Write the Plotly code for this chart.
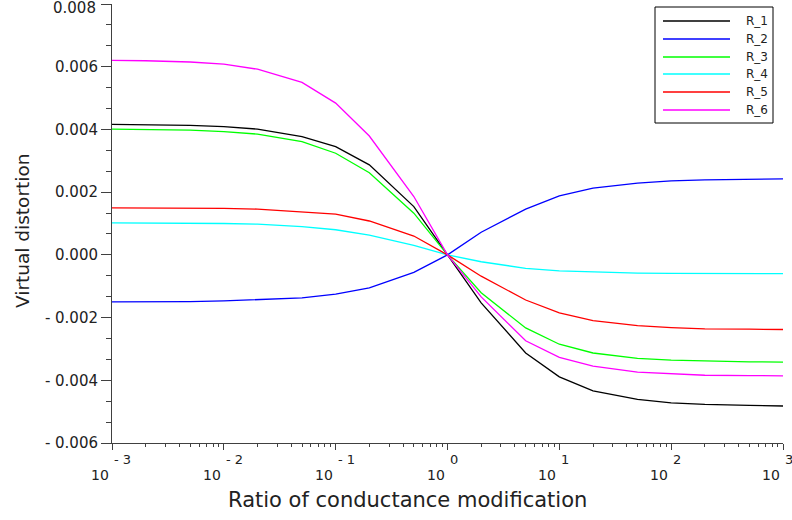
import plotly.graph_objects as go

# ---------------- data ----------------
ratio = [0.001, 0.002, 0.005, 0.01, 0.02, 0.05, 0.1, 0.2, 0.5, 1,
         2, 5, 10, 20, 50, 100, 200, 500, 1000]

R_1 = [0.00416, 0.00415, 0.00413, 0.00409, 0.00401, 0.00377, 0.00345, 0.00287, 0.00154, 0.0,
       -0.00153, -0.00313, -0.00389, -0.00434, -0.00461, -0.00472, -0.00477, -0.00480, -0.00482]
R_2 = [-0.00150, -0.00150, -0.00149, -0.00147, -0.00143, -0.00137, -0.00125, -0.00105, -0.00056, 0.0,
       0.00072, 0.00146, 0.00188, 0.00213, 0.00229, 0.00236, 0.00239, 0.00241, 0.00242]
R_3 = [0.00401, 0.00400, 0.00398, 0.00393, 0.00385, 0.00361, 0.00324, 0.00262, 0.00133, 0.0,
       -0.00121, -0.00233, -0.00285, -0.00313, -0.00330, -0.00336, -0.00339, -0.00341, -0.00342]
R_4 = [0.00102, 0.00102, 0.00101, 0.00100, 0.00098, 0.00090, 0.00080, 0.00063, 0.00030, 0.0,
       -0.00022, -0.00043, -0.00051, -0.00055, -0.00058, -0.00059, -0.00060, -0.00060, -0.00060]
R_5 = [0.00150, 0.00150, 0.00149, 0.00148, 0.00146, 0.00138, 0.00130, 0.00108, 0.00060, 0.0,
       -0.00068, -0.00144, -0.00185, -0.00210, -0.00226, -0.00232, -0.00236, -0.00237, -0.00238]
R_6 = [0.00620, 0.00619, 0.00615, 0.00608, 0.00592, 0.00550, 0.00484, 0.00379, 0.00186, 0.0,
       -0.00134, -0.00274, -0.00327, -0.00355, -0.00374, -0.00380, -0.00384, -0.00385, -0.00386]

series_names = ["R_1", "R_2", "R_3", "R_4", "R_5", "R_6"]
series_values = [R_1, R_2, R_3, R_4, R_5, R_6]
series_colors = ["#000000", "#0000ff", "#00ff00", "#00ffff", "#ff0000", "#ff00ff"]

y_tickvals = [0.008, 0.006, 0.004, 0.002, 0.0, -0.002, -0.004, -0.006]
y_ticktext = ["0.008", "0.006", "0.004", "0.002", "0.000", "- 0.002", "- 0.004", "- 0.006"]
x_tickvals = [0.001, 0.01, 0.1, 1, 10, 100, 1000]
x_exponents = ["- 3", "- 2", "- 1", "0", "1", "2", "3"]
x_log_pos = [-3, -2, -1, 0, 1, 2, 3]

x_title = "Ratio of conductance modification"
y_title = "Virtual distortion"

# ---------------- layout geometry ----------------
W, H = 792, 520
L, R, T, B = 112, 783, 4, 443
FONT = "DejaVu Sans"
AX = "#404040"
TXT = "#222"
EPS = 1e-8


def px_x(p):
    return (p - L) / (R - L)


def px_y(p):
    return (B - p) / (B - T)


fig = go.Figure()
for name, vals, col in zip(series_names, series_values, series_colors):
    fig.add_trace(go.Scatter(x=ratio, y=vals, mode="lines", name=name,
                             line=dict(color=col, width=1.3), showlegend=False))

annotations = []
shapes = []

# top y tick label is nudged down so it stays inside the page (as in the reference)
tick_text_axis = [("" if i == 0 else t) for i, t in enumerate(y_ticktext)]
annotations.append(dict(x=0, xref="paper", y=1, yref="paper", text=y_ticktext[0],
                        showarrow=False, xanchor="right", yanchor="middle",
                        xshift=-14, yshift=-4, font=dict(family=FONT, size=15, color=TXT)))

# x tick labels: "10" with exponent above-right
for lp, ex in zip(x_log_pos, x_exponents):
    annotations.append(dict(x=lp, xref="x", y=0, yref="paper", text="10",
                            showarrow=False, xanchor="right", yanchor="middle",
                            xshift=-1, yshift=-32, font=dict(family=FONT, size=14, color=TXT)))
    annotations.append(dict(x=lp, xref="x", y=0, yref="paper", text=ex,
                            showarrow=False, xanchor="left", yanchor="middle",
                            xshift=0, yshift=-16, font=dict(family=FONT, size=13, color=TXT)))

# axis titles
annotations.append(dict(x=px_x(407), xref="paper", y=px_y(500), yref="paper", text=x_title,
                        showarrow=False, xanchor="center", yanchor="middle",
                        font=dict(family=FONT, size=21, color=TXT)))
annotations.append(dict(x=px_x(22), xref="paper", y=px_y(231), yref="paper", text=y_title,
                        showarrow=False, xanchor="center", yanchor="middle", textangle=-90,
                        font=dict(family=FONT, size=18.5, color=TXT)))

# legend box
shapes.append(dict(type="rect", xref="paper", yref="paper",
                   x0=px_x(655), x1=px_x(773), y0=px_y(123), y1=px_y(7),
                   line=dict(color="#000", width=1), fillcolor="white", layer="above"))
rows = [21, 39, 57, 74, 92, 110]
for name, col, ry in zip(series_names, series_colors, rows):
    shapes.append(dict(type="line", xref="paper", yref="paper",
                       x0=px_x(663), x1=px_x(730), y0=px_y(ry), y1=px_y(ry),
                       line=dict(color=col, width=1.3), layer="above"))
    annotations.append(dict(x=px_x(744), xref="paper", y=px_y(ry), yref="paper", text=name,
                            showarrow=False, xanchor="left", yanchor="middle",
                            font=dict(family=FONT, size=12, color=TXT)))

fig.update_layout(
    width=W, height=H,
    margin=dict(l=L, r=W - R, t=T, b=H - B, pad=0, autoexpand=False),
    paper_bgcolor="white", plot_bgcolor="white",
    font=dict(family=FONT, size=15, color=TXT),
    annotations=annotations, shapes=shapes,
    xaxis=dict(type="log", range=[-3 - EPS, 3 + EPS], tickvals=x_tickvals, showticklabels=False,
               automargin=False,
               showgrid=False, zeroline=False, showline=True, linecolor=AX, linewidth=1,
               ticks="outside", ticklen=6, tickwidth=1, tickcolor=AX,
               minor=dict(ticks="outside", ticklen=3, tickwidth=1, tickcolor=AX,
                          dtick="D1", showgrid=False)),
    yaxis=dict(range=[-0.006 - 1e-9, 0.008 + 1e-9], tickvals=y_tickvals, ticktext=tick_text_axis,
               automargin=False, ticklabeloverflow="allow",
               showgrid=False, zeroline=False, showline=True, linecolor=AX, linewidth=1,
               ticks="outside", ticklen=10, tickwidth=1, tickcolor=AX,
               tickfont=dict(family=FONT, size=15, color=TXT),
               minor=dict(ticks="outside", ticklen=5, tickwidth=1, tickcolor=AX,
                          tick0=0, dtick=0.002 / 3, showgrid=False)),
)

fig.write_html("out.html", config={"displayModeBar": False},
               post_script="document.body.style.margin='0px';document.body.style.padding='0px';")
